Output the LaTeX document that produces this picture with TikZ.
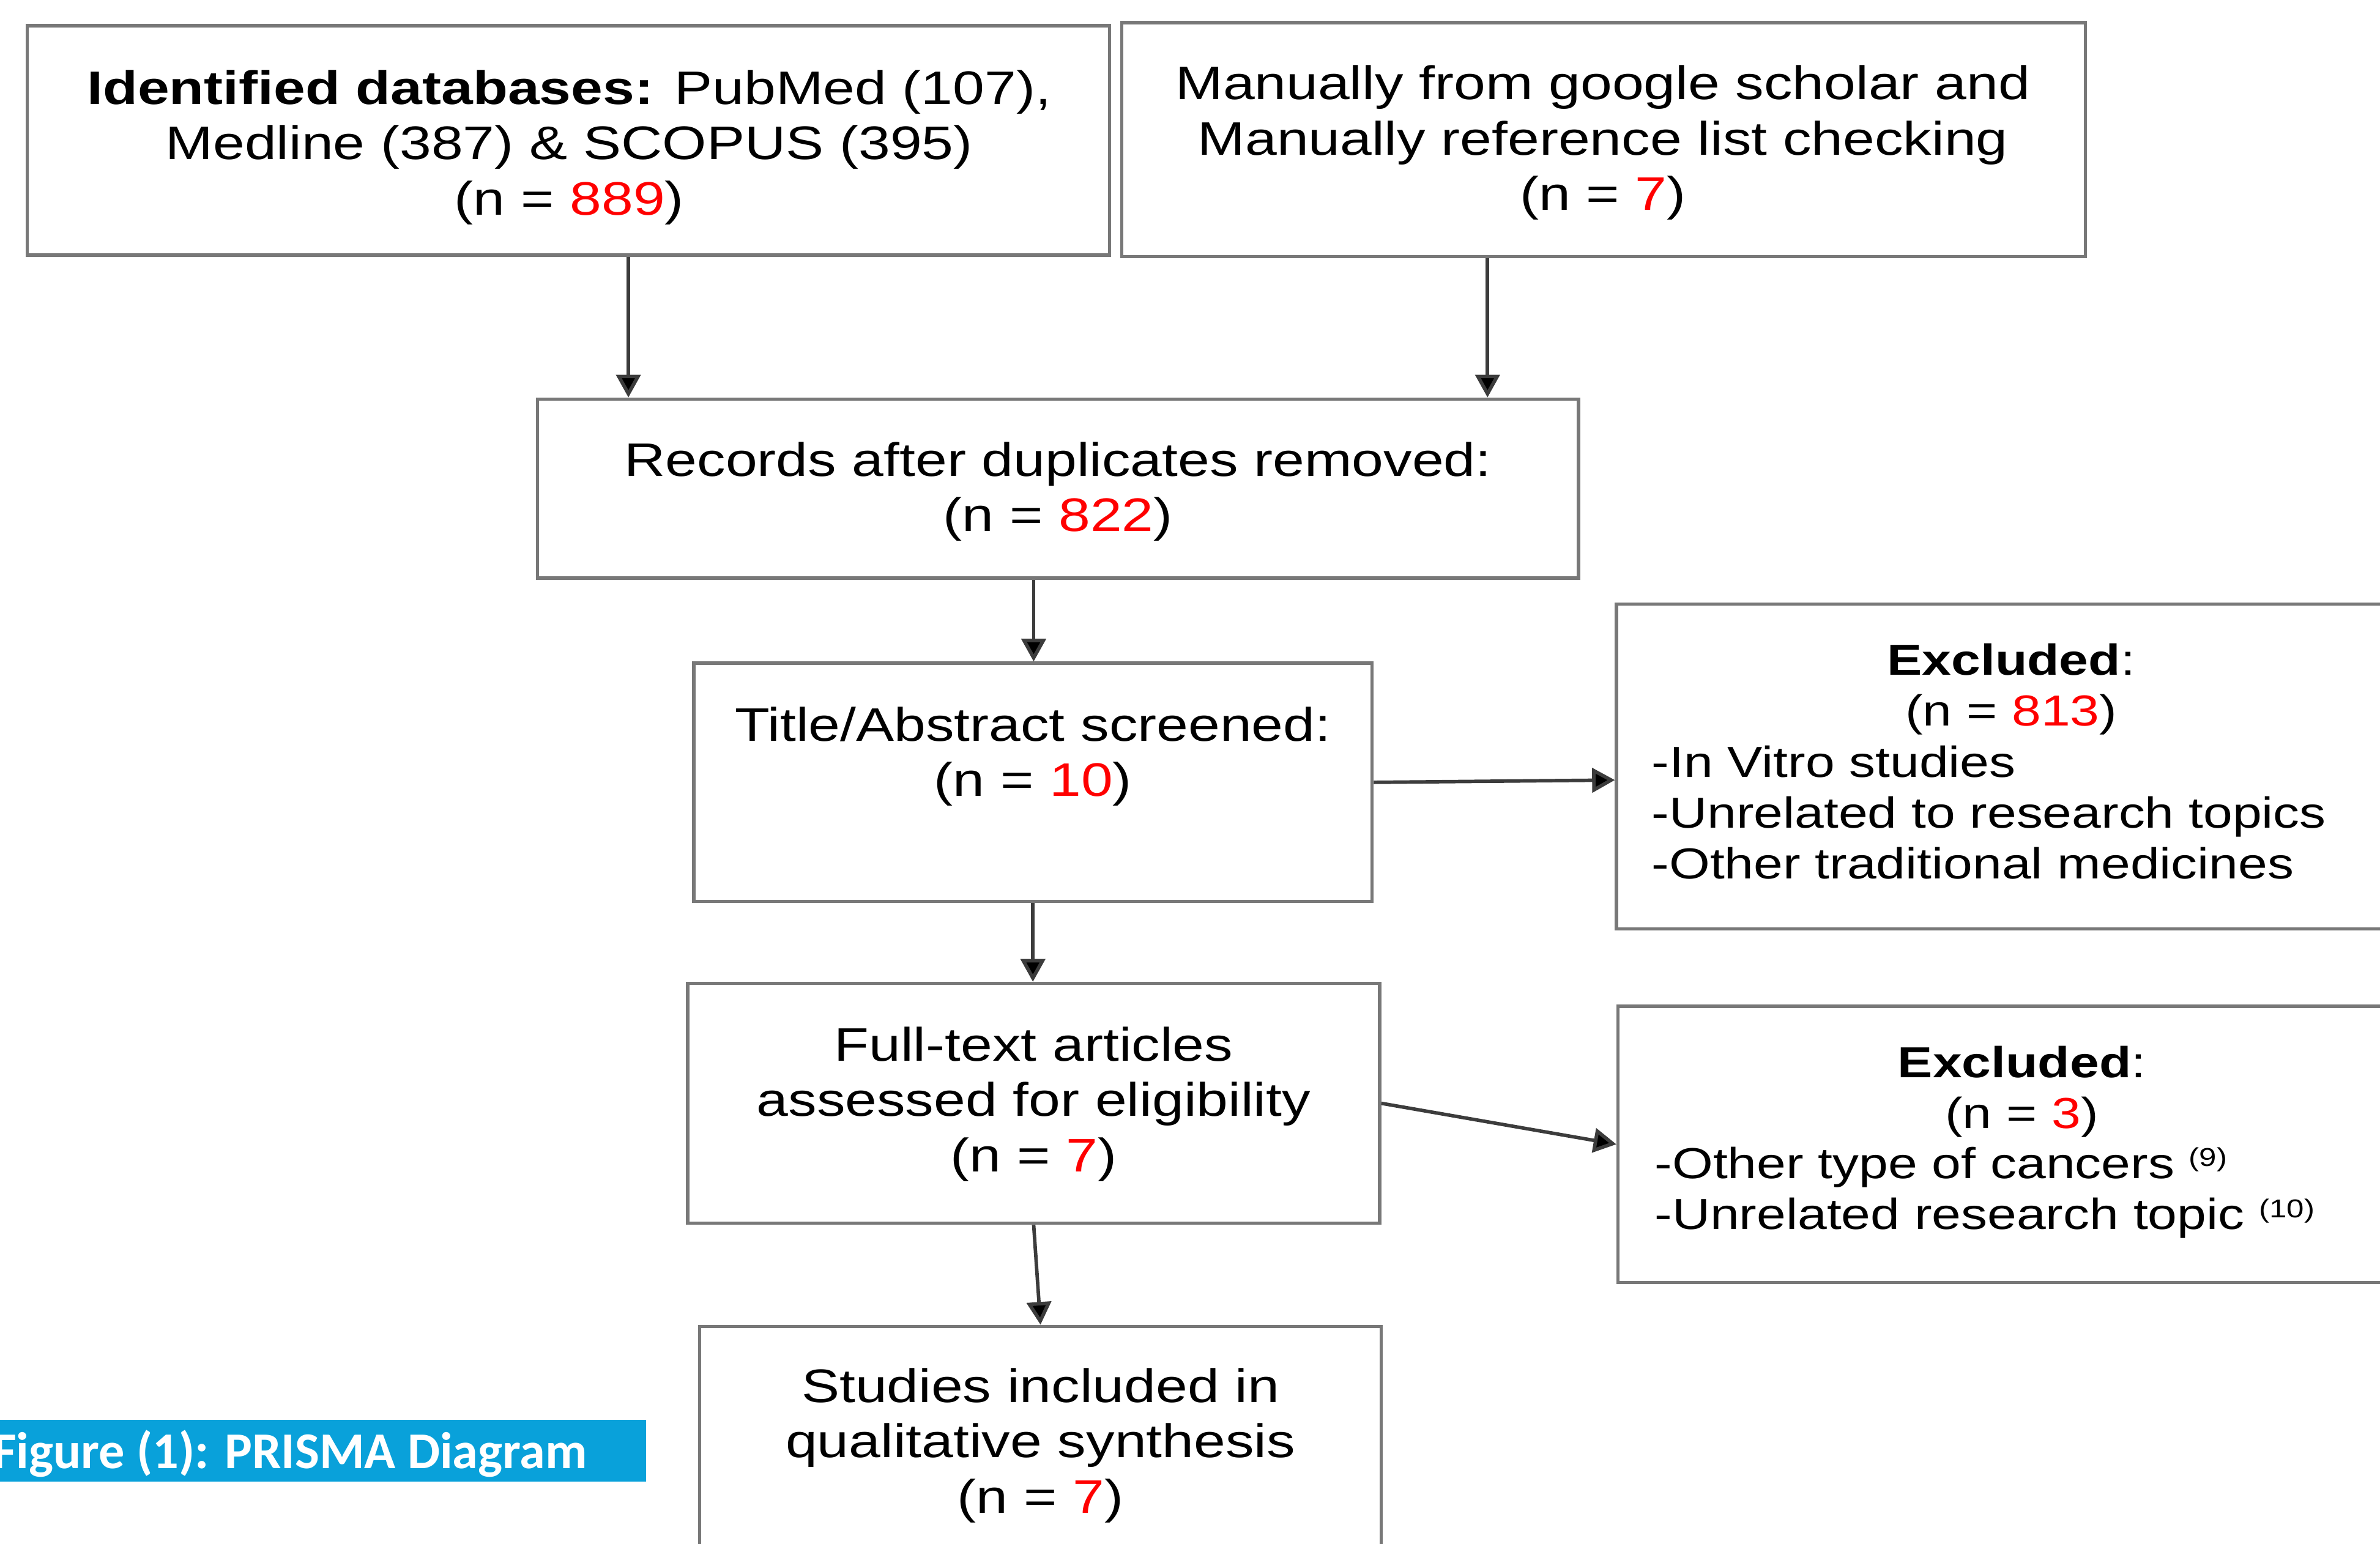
\documentclass[tikz,border=0pt]{standalone}
\usepackage{fontspec}
\setmainfont{Liberation Sans}[FakeStretch=1.21]
\newfontfamily\labelfont{Carlito}
\usetikzlibrary{arrows.meta,fit}
\definecolor{boxgray}{RGB}{120,120,120}
\definecolor{arrgray}{RGB}{60,60,60}
\definecolor{figblue}{RGB}{9,161,218}
\definecolor{nred}{RGB}{255,0,0}
\tikzset{
  box/.style={draw=boxgray, line width=2.2pt, inner sep=0pt},
  txt/.style={align=center, inner sep=0pt, font=\fontsize{31}{36.5}\selectfont},
  smalltxt/.style={align=center, inner sep=0pt, font=\fontsize{28.6}{33.5}\selectfont},
  listtxt/.style={align=left, inner sep=0pt, anchor=west, font=\fontsize{28.6}{33.5}\selectfont},
  arr/.style={-{Triangle[length=15pt,width=16pt,fill=black]}, line width=2.3pt, draw=arrgray},
}
\newcommand{\nval}[1]{\textcolor{nred}{#1}}
\newcommand{\supref}[1]{\raisebox{8pt}{\fontsize{17}{17}\selectfont(#1)}}
\begin{document}
\begin{tikzpicture}[x=1pt,y=-1pt]
\useasboundingbox (0,0) rectangle (1568,1017);
\clip (0,0) rectangle (1568,1017);
% boxes
\node[box, fit={(18,17) (731,168)}] (a) {};
\node[box, fit={(739,15) (1374,169)}] (b) {};
\node[box, fit={(354,263) (1040,381)}] (c) {};
\node[box, fit={(457,437) (904,594)}] (d) {};
\node[box, fit={(1065,398) (1620,612)}] (e) {};
\node[box, fit={(453,648) (909,806)}] (f) {};
\node[box, fit={(1066,663) (1620,845)}] (g) {};
\node[box, fit={(461,874) (910,1060)}] (h) {};
% texts
\node[txt] (at) at (375,97) {\textbf{Identified databases:} PubMed (107),\\Medline (387) \& SCOPUS (395)\\(n = \nval{889})};
\node[txt] (bt) at (1056,94) {Manually from google scholar and\\Manually reference list checking\\(n = \nval{7})};
\node[txt] (ct) at (697,324) {Records after duplicates removed:\\(n = \nval{822})};
\node[txt] (dt) at (680.5,498.5) {Title/Abstract screened:\\(n = \nval{10})};
\node[smalltxt] (et) at (1325,454) {\textbf{Excluded}:\\(n = \nval{813})};
\node[listtxt] (el) at (1088,535.5) {-In Vitro studies\\-Unrelated to research topics\\-Other traditional medicines};
\node[txt] (ft) at (681,727.5) {Full-text articles\\assessed for eligibility\\(n = \nval{7})};
\node[smalltxt] (gt) at (1332,719.5) {\textbf{Excluded}:\\(n = \nval{3})};
\node[listtxt] (gl) at (1090,786) {-Other type of cancers \supref{9}\\-Unrelated research topic \supref{10}};
\node[txt] (ht) at (685.5,952.5) {Studies included in\\qualitative synthesis\\(n = \nval{7})};
% connectors
\draw[arr] ([xshift=39.5pt]a.south) -- ([xshift=39.5pt]a.south |- c.north);
\draw[arr] ([xshift=-76.5pt]b.south) -- ([xshift=-76.5pt]b.south |- c.north);
\draw[arr] ([xshift=-16pt]c.south) -- ([xshift=-16pt]c.south |- d.north);
\draw[arr] (d.east) -- ([yshift=1.5pt]d.east -| e.west);
\draw[arr] (d.south) -- (d.south |- f.north);
\draw[arr] (f.east) -- (g.west);
\draw[arr] (f.south) -- (h.north);
% figure label
\node[fill=figblue, inner sep=0pt, fit={(-10,935.5) (425.5,976.3)}] (labbox) {};
\node[anchor=base west, inner sep=0pt, text=white, font=\labelfont\bfseries\fontsize{34}{34}\selectfont] (lab) at (-5,967.6) {Figure (1): PRISMA Diagram};
\end{tikzpicture}
\end{document}
